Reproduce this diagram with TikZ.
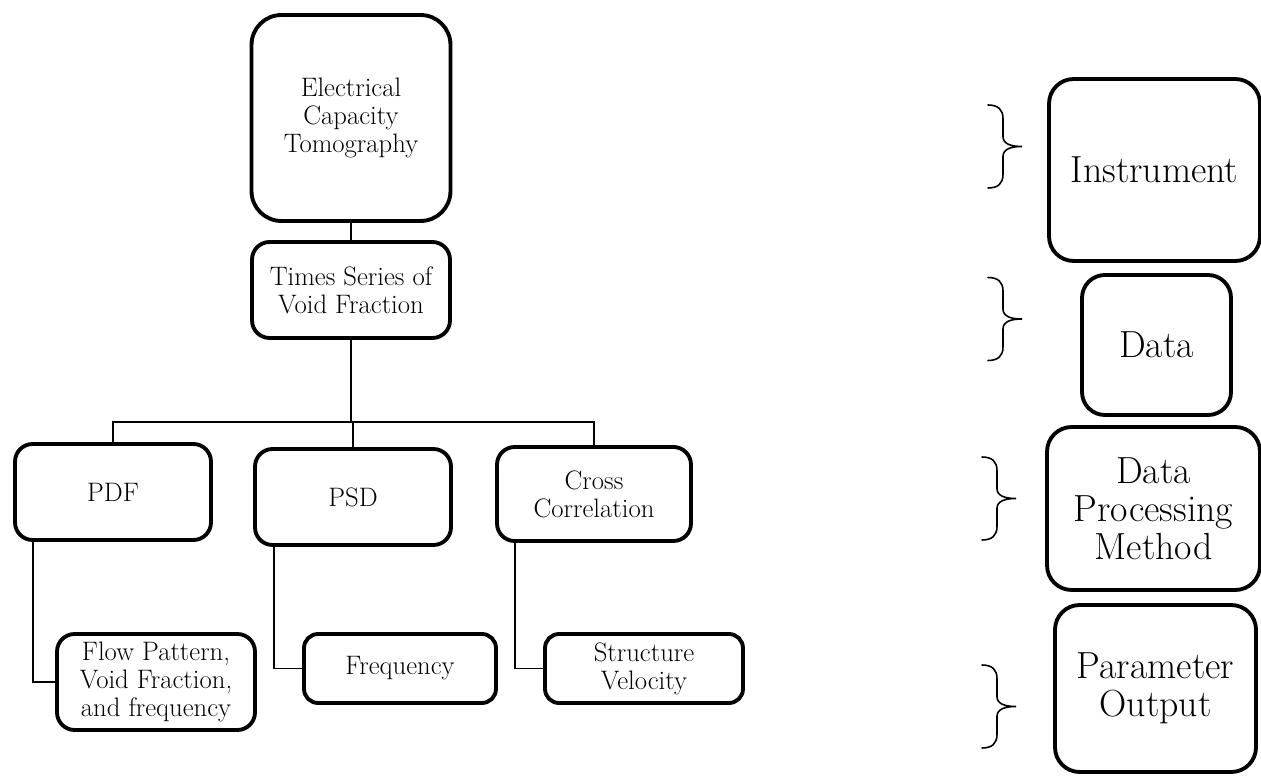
\documentclass[tikz,border=0pt]{standalone}
\usetikzlibrary{calc}
\begin{document}
\begin{tikzpicture}[x=0.02cm,y=-0.02cm,
  box/.style={draw, line width=2.2pt, rounded corners=10pt, align=center, inner sep=0pt, font=\fontsize{15.2}{16}\selectfont},
  smallbox/.style={box, rounded corners=8pt},
  bigbox/.style={box, rounded corners=14pt, font=\fontsize{21.5}{21.5}\selectfont},
  conn/.style={line width=0.9pt},
  bracepath/.style={line width=0.9pt, line cap=round},
  rbrace/.pic={\draw[bracepath] (0,-41.5) .. controls (10,-41.5) and (15,-37) .. (15,-28) -- (15,-10) .. controls (15,-3) and (22,0) .. (34,0) .. controls (22,0) and (15,3) .. (15,10) -- (15,28) .. controls (15,37) and (10,41.5) .. (0,41.5);}
]
\useasboundingbox (0,0) rectangle (1261,776);

% left tree
\node[box, rounded corners=17pt, minimum width=3.98cm, minimum height=4.12cm] (ect) at (351,118) {Electrical\\Capacity\\Tomography};
\node[box, minimum width=3.96cm, minimum height=1.92cm] (times) at (351,290) {Times Series of\\Void Fraction};
\node[box, minimum width=3.92cm, minimum height=1.92cm] (pdf) at (113,492) {PDF};
\node[box, minimum width=3.92cm, minimum height=1.92cm] (psd) at (353,497) {PSD};
\node[box, minimum width=3.88cm, minimum height=1.88cm] (cc) at (594,494) {Cross\\Correlation};
\node[box, minimum width=3.96cm, minimum height=1.92cm] (flow) at (156,682) {Flow Pattern,\\Void Fraction,\\and frequency};
\node[smallbox, minimum width=3.84cm, minimum height=1.38cm] (freq) at (400,668.5) {Frequency};
\node[smallbox, minimum width=3.96cm, minimum height=1.38cm] (sv) at (644,668.5) {Structure\\Velocity};

\coordinate (busL) at (113,422);

\draw[conn] (ect.south) -- (times.north);
\draw[conn] (times.south) -- (times.south |- busL);
\draw[conn] (pdf.north) -- (busL) -- (cc.north |- busL) -- (cc.north);
\draw[conn] (psd.north) -- (psd.north |- busL);
\draw[conn] ($(pdf.south west)+(20,0)$) |- (flow.west);
\draw[conn] ($(psd.south west)+(21,0)$) |- (freq.west);
\draw[conn] ($(cc.south west)+(20,0)$) |- (sv.west);

% right legend
\node[bigbox, minimum width=4.22cm, minimum height=3.64cm] (inst) at (1154.5,170) {Instrument};
\node[bigbox, rounded corners=13pt, minimum width=2.98cm, minimum height=2.80cm] (data) at (1156.5,345) {Data};
\node[bigbox, minimum width=4.26cm, minimum height=3.26cm] (dpm) at (1153.5,508.5) {Data\\Processing\\Method};
\node[bigbox, minimum width=4.02cm, minimum height=3.34cm] (po) at (1155.5,688.5) {Parameter\\Output};

\pic at (988,146.5) {rbrace};
\pic at (988,319) {rbrace};
\pic at (982,498.5) {rbrace};
\pic at (982,706.5) {rbrace};
\end{tikzpicture}
\end{document}
